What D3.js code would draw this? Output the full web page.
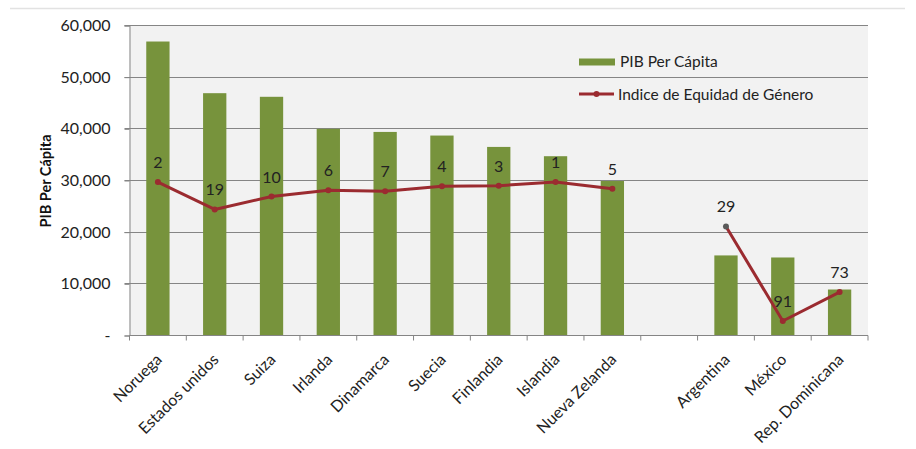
<!DOCTYPE html>
<html><head><meta charset="utf-8">
<script src="https://cdn.jsdelivr.net/npm/d3@7"></script>
<style>
html,body{margin:0;padding:0;background:#fff;}
svg{display:block;font-family:Lato,"Open Sans",sans-serif;}
</style></head>
<body>
<svg id="chart" width="916" height="449"></svg>
<script>
// ---- data ----
const categories = ["Noruega","Estados unidos","Suiza","Irlanda","Dinamarca","Suecia","Finlandia","Islandia","Nueva Zelanda","","Argentina","México","Rep. Dominicana"];
const pibPerCapita = [56900,46900,46200,40000,39400,38700,36500,34700,29900,null,15500,15100,8900];
const indiceEquidad = [29700,24400,26900,28100,27900,28900,29000,29700,28400,null,21100,2800,8400];
const rankingEquidad = ["2","19","10","6","7","4","3","1","5","","29","91","73"];
const yTicks = [0,10000,20000,30000,40000,50000,60000];
const legendLabels = ["PIB Per Cápita","Indice de Equidad de Género"];
const yTitle = "PIB Per Cápita";

// ---- layout ----
const svg = d3.select("#chart");
const m = {left:129.5, top:25.5, right:868, bottom:335.5};
const W = m.right - m.left, H = m.bottom - m.top;
const barColor = "#77933c", lineColor = "#9b2b30";

svg.append("line").attr("x1",10).attr("x2",905).attr("y1",8.5).attr("y2",8.5)
  .attr("stroke","#e2e2e2").attr("stroke-width",1.5);

const g = svg.append("g").attr("transform",`translate(${m.left},${m.top})`);
const x = d3.scaleBand().domain(d3.range(categories.length)).range([0,W]).paddingInner(0.59).paddingOuter(0.295);
const xb = d3.scaleBand().domain(d3.range(categories.length)).range([0,W]);
const y = d3.scaleLinear().domain([0,60000]).range([H,0]);

g.append("rect").attr("width",W).attr("height",H).attr("fill","#f2f2f2");

// gridlines
g.selectAll(".grid").data(yTicks.filter(d=>d>0)).join("line")
  .attr("x1",-5).attr("x2",W).attr("y1",d=>Math.round(y(d))).attr("y2",d=>Math.round(y(d)))
  .attr("stroke","#858585").attr("stroke-width",1);

// y axis labels
const yAxis = d3.axisLeft(y).tickValues(yTicks).tickSize(5)
  .tickFormat(d=> d===0 ? "-" : d3.format(",")(d));
const ya = g.append("g").call(yAxis);
ya.select(".domain").attr("stroke","#858585");
ya.selectAll(".tick line").attr("stroke","#858585");
ya.selectAll(".tick text").attr("x",-19).attr("font-size",16).attr("fill","#222").attr("font-family","Lato,sans-serif");

// bars
g.selectAll(".bar").data(pibPerCapita.map((v,i)=>({v,i})).filter(d=>d.v!=null)).join("rect")
  .attr("x",d=>x(d.i)).attr("width",x.bandwidth())
  .attr("y",d=>y(d.v)).attr("height",d=>H-y(d.v)).attr("fill",barColor);

// x axis
const xa = g.append("g").attr("transform",`translate(0,${H})`);
xa.append("line").attr("x1",0).attr("x2",W).attr("stroke","#858585");
xa.selectAll(".tk").data(d3.range(categories.length+1)).join("line")
  .attr("x1",d=>d*xb.step()).attr("x2",d=>d*xb.step()).attr("y1",0).attr("y2",5).attr("stroke","#858585");
xa.selectAll(".lbl").data(categories).join("text")
  .attr("transform",(d,i)=>`translate(${xb(i)+xb.bandwidth()/2+5},${25}) rotate(-45)`)
  .attr("text-anchor","end").attr("font-size",16).attr("fill","#222").text(d=>d);

// line (broken at empty category)
const pts = indiceEquidad.map((v,i)=>({v,i}));
const line = d3.line().defined(d=>d.v!=null).x(d=>xb(d.i)+xb.bandwidth()/2).y(d=>y(d.v));
g.append("path").datum(pts).attr("d",line).attr("fill","none")
  .attr("stroke",lineColor).attr("stroke-width",3).attr("stroke-linejoin","round");
g.selectAll(".mk").data(pts.filter(d=>d.v!=null)).join("circle")
  .attr("cx",d=>xb(d.i)+xb.bandwidth()/2).attr("cy",d=>y(d.v)).attr("r",3)
  .attr("fill",d=>d.i===10?"#5a5a5a":lineColor);
g.selectAll(".dl").data(pts.filter(d=>d.v!=null)).join("text")
  .attr("x",d=>xb(d.i)+xb.bandwidth()/2).attr("y",d=>y(d.v)-14)
  .attr("text-anchor","middle").attr("font-size",16).attr("fill","#222")
  .text(d=>rankingEquidad[d.i]);

// y title
svg.append("text").attr("transform","translate(51,181) rotate(-90)")
  .attr("text-anchor","middle").attr("font-size",14.5).attr("font-weight","bold").attr("fill","#111").text(yTitle);

// legend
const lg = svg.append("g");
lg.append("rect").attr("x",579).attr("y",58.5).attr("width",36).attr("height",7).attr("fill",barColor);
lg.append("text").attr("x",620).attr("y",67).attr("font-size",15.5).attr("fill","#222").text(legendLabels[0]);
lg.append("line").attr("x1",579).attr("x2",614).attr("y1",94).attr("y2",94).attr("stroke",lineColor).attr("stroke-width",3);
lg.append("circle").attr("cx",596.5).attr("cy",94).attr("r",3).attr("fill",lineColor);
lg.append("text").attr("x",618).attr("y",99.5).attr("font-size",15.5).attr("fill","#222").text(legendLabels[1]);
</script>
</body></html>
